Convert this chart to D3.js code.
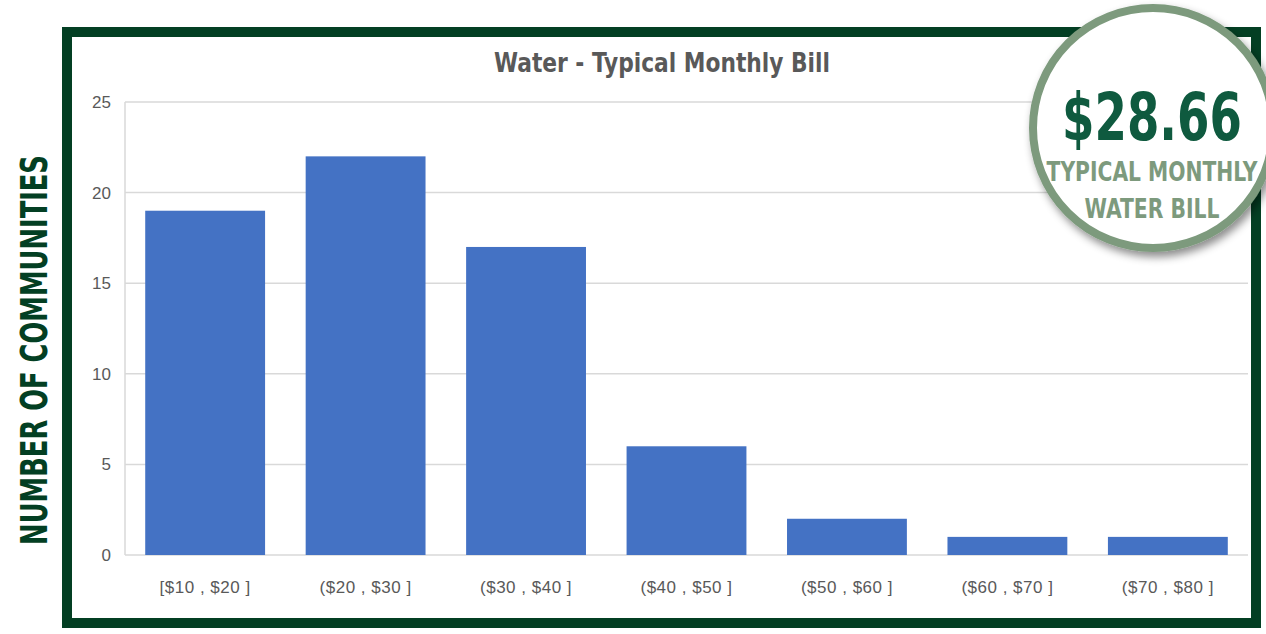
<!DOCTYPE html>
<html>
<head>
<meta charset="utf-8">
<script src="https://cdn.jsdelivr.net/npm/d3@7"></script>
<style>
html,body{margin:0;padding:0;background:#fff;}
svg{display:block;}
</style>
</head>
<body>
<svg id="chart" width="1266" height="634"></svg>
<script>
const categories = ["[$10 , $20 ]", "($20 , $30 ]", "($30 , $40 ]", "($40 , $50 ]", "($50 , $60 ]", "($60 , $70 ]", "($70 , $80 ]"];
const counts = [19, 22, 17, 6, 2, 1, 1];
const yTicks = [0, 5, 10, 15, 20, 25];
const chartTitle = "Water - Typical Monthly Bill";
const yTitle = "NUMBER OF COMMUNITIES";
const badgeValue = "$28.66";
const badgeLines = ["TYPICAL MONTHLY", "WATER BILL"];

const svg = d3.select("#chart");
const narrow = "'Liberation Sans Narrow','DejaVu Sans Condensed',sans-serif";

const defs = svg.append("defs");
const f = defs.append("filter").attr("id","shadow").attr("x","-30%").attr("y","-30%").attr("width","160%").attr("height","160%");
f.append("feDropShadow").attr("dx",3).attr("dy",5).attr("stdDeviation",4).attr("flood-color","#000").attr("flood-opacity",0.45);

// squeezed text helper: draws text centred at (cx, baseline) scaled horizontally to a target width
function squeezed(parent, cx, by, width, rotate, str, style) {
  const g = parent.append("g");
  const t = g.append("text").attr("text-anchor","middle").text(str);
  Object.entries(style).forEach(([k,v]) => t.style(k,v));
  const natural = t.node().getComputedTextLength();
  const sx = width / natural;
  g.attr("transform", `translate(${cx},${by})${rotate ? " rotate(-90)" : ""} scale(${sx},1)`);
  return t;
}

// frame
svg.append("rect").attr("x",67).attr("y",32).attr("width",1189).attr("height",591)
  .attr("fill","#fff").attr("stroke","#033f23").attr("stroke-width",10);

const margin = {left:125, right:1248, top:102, bottom:555};
const x = d3.scaleBand().domain(categories).range([margin.left, margin.right]).paddingInner(0.253).paddingOuter(0.126);
const y = d3.scaleLinear().domain([0,25]).range([margin.bottom, margin.top]);

// grid
svg.append("g").selectAll("line").data(yTicks).join("line")
  .attr("x1",margin.left).attr("x2",margin.right)
  .attr("y1",d=>y(d)).attr("y2",d=>y(d))
  .attr("stroke","#d9d9d9").attr("stroke-width",1.5);
svg.append("line").attr("x1",margin.left).attr("x2",margin.left).attr("y1",y(25)).attr("y2",y(0))
  .attr("stroke","#d9d9d9").attr("stroke-width",1.5);

// y axis labels
const yAxis = d3.axisLeft(y).tickValues(yTicks).tickSize(0).tickPadding(14);
const ya = svg.append("g").attr("transform",`translate(${margin.left},0)`).call(yAxis);
ya.select(".domain").remove();
ya.selectAll("text").attr("fill","#595959").style("font-family","'Liberation Sans',Arial,sans-serif").style("font-size","17px");

// x axis labels
const xAxis = d3.axisBottom(x).tickSize(0).tickPadding(26);
const xa = svg.append("g").attr("transform",`translate(0,${margin.bottom})`).call(xAxis);
xa.select(".domain").remove();
xa.selectAll("text").attr("fill","#595959").style("font-family","'Liberation Sans',Arial,sans-serif").style("font-size","17px").style("letter-spacing","0.5px");

// bars
svg.append("g").selectAll("rect").data(counts).join("rect")
  .attr("x",(d,i)=>x(categories[i])).attr("width",x.bandwidth())
  .attr("y",d=>y(d)).attr("height",d=>y(0)-y(d))
  .attr("fill","#4472c4");

// title
squeezed(svg, 662, 72, 336, false, chartTitle,
  {"fill":"#595959","font-family":narrow,"font-weight":"bold","font-size":"26px"});

// y title
squeezed(svg, 47, 350, 390, true, yTitle,
  {"fill":"#033f23","font-family":narrow,"font-weight":"bold","font-size":"38px"});

// badge
const b = svg.append("g");
b.append("circle").attr("cx",1153).attr("cy",128).attr("r",120)
  .attr("fill","#fff").attr("stroke","#7d9a7d").attr("stroke-width",8).attr("filter","url(#shadow)");
squeezed(b, 1152, 140, 180, false, badgeValue,
  {"fill":"#0f5a3f","font-family":narrow,"font-weight":"bold","font-size":"65px"});
squeezed(b, 1152, 181, 211, false, badgeLines[0],
  {"fill":"#7d9a7d","font-family":narrow,"font-size":"26px","font-weight":"600"});
squeezed(b, 1152, 218, 135, false, badgeLines[1],
  {"fill":"#7d9a7d","font-family":narrow,"font-size":"26px","font-weight":"600"});
</script>
</body>
</html>
